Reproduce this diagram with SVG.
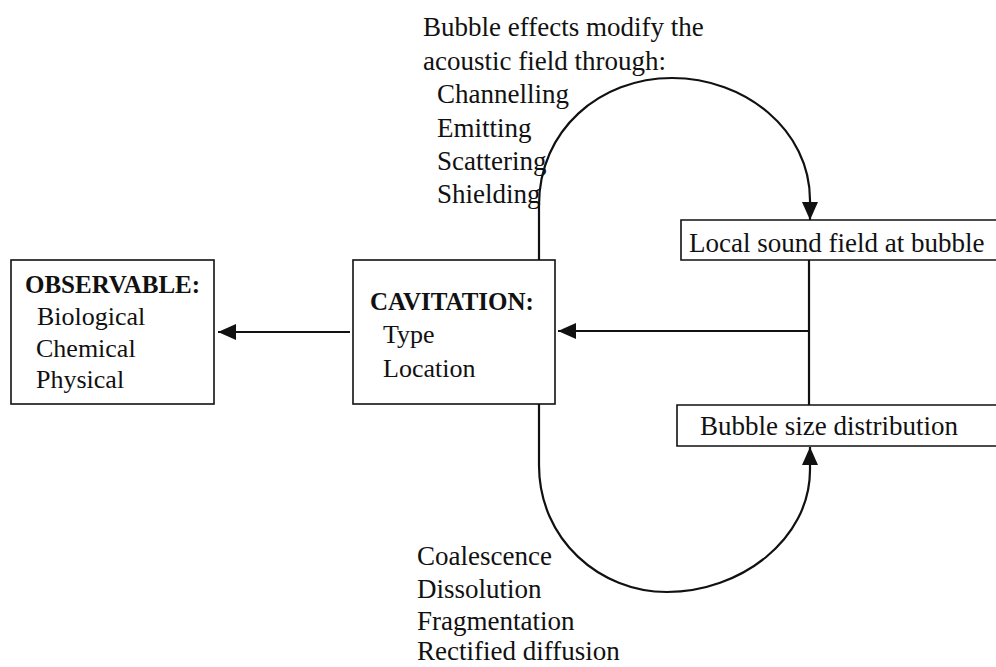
<svg xmlns="http://www.w3.org/2000/svg" width="996" height="667" viewBox="0 0 996 667">
<style>
text{font-family:"Liberation Serif","Times New Roman",serif;fill:#111}
.b{font-weight:bold;font-size:25px}
.r{font-size:26px}
.t{font-size:27px}
.box{fill:#fff;stroke:#111;stroke-width:1.6}
.ln{fill:none;stroke:#111;stroke-width:2.2}
</style>
<defs>
<marker id="ahL" viewBox="0 0 18 16" refX="18" refY="8" markerWidth="18" markerHeight="16" markerUnits="userSpaceOnUse" orient="auto">
<path d="M0,0 L18,8 L0,16 Z" fill="#111"/>
</marker>
</defs>
<g id="connectors">
<path class="ln" d="M350,332 H218" marker-end="url(#ahL)"/>
<path class="ln" d="M809,331 H558" marker-end="url(#ahL)"/>
<path class="ln" d="M809,260 V405"/>
<path class="ln" d="M539,260 V205 C539,130 600,78 672,78 C745,78 810,130 810,200 L810,220" marker-end="url(#ahL)"/>
<path class="ln" d="M539,404 V465 C539,540 600,592 667,592 C740,592 810,540 810,470 L810,447" marker-end="url(#ahL)"/>
</g>
<g id="observable">
<rect class="box" x="11" y="260" width="203" height="144"/>
<text class="b" x="25" y="293">OBSERVABLE:</text>
<text class="r" x="37" y="325">Biological</text>
<text class="r" x="36" y="357">Chemical</text>
<text class="r" x="36" y="388">Physical</text>
</g>
<g id="cavitation">
<rect class="box" x="353" y="260" width="202" height="144"/>
<text class="b" x="370" y="310">CAVITATION:</text>
<text class="r" x="383" y="343">Type</text>
<text class="r" x="383" y="377">Location</text>
</g>
<g id="local">
<path class="box" d="M998,220 H681 V260 H998"/>
<text class="t" x="689" y="252">Local sound field at bubble</text>
</g>
<g id="bubble">
<path class="box" d="M998,405 H677 V446 H998"/>
<text class="t" x="700" y="435">Bubble size distribution</text>
</g>
<g id="effects">
<text class="t" x="423" y="36">Bubble effects modify the</text>
<text class="t" x="423" y="70">acoustic field through:</text>
<text class="t" x="437" y="103">Channelling</text>
<text class="t" x="437" y="137">Emitting</text>
<text class="t" x="437" y="170">Scattering</text>
<text class="t" x="437" y="203">Shielding</text>
</g>
<g id="processes">
<text class="t" x="417" y="565">Coalescence</text>
<text class="t" x="417" y="598">Dissolution</text>
<text class="t" x="417" y="630">Fragmentation</text>
<text class="t" x="417" y="660">Rectified diffusion</text>
</g>
</svg>
